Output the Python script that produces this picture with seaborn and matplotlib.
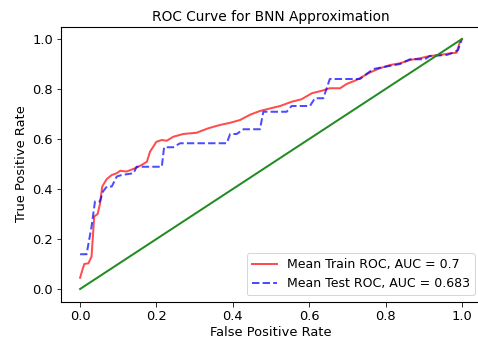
import matplotlib
matplotlib.use("Agg")
import matplotlib.pyplot as plt
import seaborn as sns
import pandas as pd

train_fpr = [0.0, 0.006, 0.011, 0.022, 0.03, 0.037, 0.046, 0.052, 0.058, 0.07, 0.083, 0.096,
             0.105, 0.122, 0.144, 0.161, 0.175, 0.183, 0.2, 0.214, 0.227, 0.244, 0.27, 0.305,
             0.336, 0.366, 0.393, 0.419, 0.445, 0.471, 0.497, 0.524, 0.554, 0.58, 0.607, 0.633,
             0.654, 0.681, 0.698, 0.724, 0.759, 0.785, 0.812, 0.838, 0.864, 0.89, 0.916, 0.942,
             0.969, 0.986, 0.995, 1.0]
train_tpr = [0.045, 0.076, 0.1, 0.103, 0.13, 0.29, 0.30, 0.34, 0.41, 0.44, 0.456, 0.463,
             0.473, 0.47, 0.483, 0.496, 0.509, 0.549, 0.589, 0.596, 0.593, 0.609, 0.62, 0.625,
             0.643, 0.656, 0.665, 0.676, 0.697, 0.712, 0.722, 0.732, 0.749, 0.759, 0.783, 0.793,
             0.803, 0.803, 0.82, 0.836, 0.866, 0.883, 0.896, 0.903, 0.916, 0.923, 0.932, 0.936,
             0.943, 0.945, 0.99, 1.0]

test_fpr = [0.0, 0.017, 0.03, 0.039, 0.052, 0.06, 0.07, 0.083, 0.096, 0.109, 0.14, 0.148,
            0.214, 0.22, 0.244, 0.262, 0.384, 0.393, 0.41, 0.428, 0.471, 0.48, 0.541, 0.554,
            0.602, 0.615, 0.637, 0.654, 0.698, 0.733, 0.75, 0.768, 0.838, 0.864, 0.903, 0.916,
            0.96, 0.977, 0.99, 1.0]
test_tpr = [0.139, 0.139, 0.25, 0.35, 0.35, 0.39, 0.41, 0.41, 0.45, 0.456, 0.463, 0.489,
            0.489, 0.567, 0.567, 0.583, 0.583, 0.62, 0.62, 0.639, 0.639, 0.709, 0.709, 0.732,
            0.732, 0.763, 0.763, 0.84, 0.84, 0.84, 0.86, 0.88, 0.9, 0.919, 0.919, 0.932,
            0.936, 0.945, 0.956, 1.0]

diag_fpr = [0.0, 1.0]
diag_tpr = [0.0, 1.0]

train_label = "Mean Train ROC, AUC = 0.7"
test_label = "Mean Test ROC, AUC = 0.683"

df_train = pd.DataFrame({"fpr": train_fpr, "tpr": train_tpr})
df_test = pd.DataFrame({"fpr": test_fpr, "tpr": test_tpr})
df_diag = pd.DataFrame({"fpr": diag_fpr, "tpr": diag_tpr})

plt.rcParams["font.size"] = 13
plt.rcParams["xtick.labelsize"] = 13
plt.rcParams["ytick.labelsize"] = 13
plt.rcParams["axes.labelsize"] = 13
plt.rcParams["legend.fontsize"] = 12.5
plt.rcParams["xtick.major.size"] = 4.5
plt.rcParams["ytick.major.size"] = 4.5
plt.rcParams["axes.linewidth"] = 1.1

fig = plt.figure(figsize=(478 / 72, 343 / 72), dpi=72)
ax = fig.add_axes([61 / 478, 41.5 / 343, 420 / 478, 275 / 343])

sns.lineplot(data=df_train, x="fpr", y="tpr", ax=ax, sort=False, estimator=None,
             color="red", alpha=0.7, linewidth=2, label=train_label)
sns.lineplot(data=df_test, x="fpr", y="tpr", ax=ax, sort=False, estimator=None,
             color="blue", alpha=0.7, linewidth=2, linestyle="--", label=test_label)
sns.lineplot(data=df_diag, x="fpr", y="tpr", ax=ax, sort=False, estimator=None,
             color="forestgreen", linewidth=2)

ax.set_xlim(-0.05, 1.05)
ax.set_ylim(-0.05, 1.05)
ax.set_xticks([0.0, 0.2, 0.4, 0.6, 0.8, 1.0])
ax.set_yticks([0.0, 0.2, 0.4, 0.6, 0.8, 1.0])
ax.set_xlabel("False Positive Rate")
ax.set_ylabel("True Positive Rate")
ax.set_title("ROC Curve for BNN Approximation", fontsize=13.8)
ax.legend(loc="lower right")

fig.savefig("out.png", dpi=72)
